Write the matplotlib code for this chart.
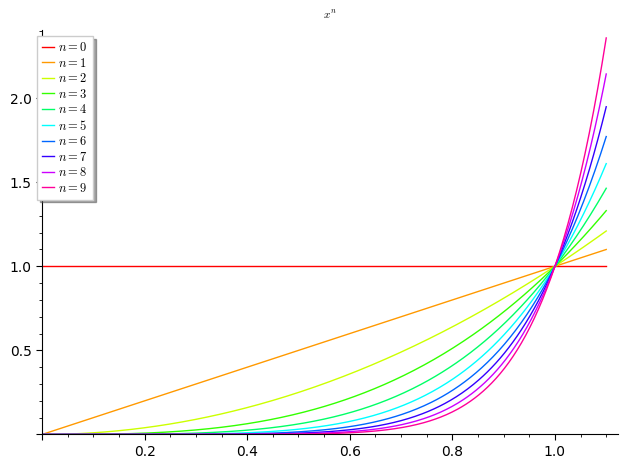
import numpy as np
import matplotlib
matplotlib.use('Agg')
import matplotlib.pyplot as plt
from matplotlib.ticker import MultipleLocator, FixedLocator

# exponents and curve colours (rainbow hues)
EXPONENTS = [0, 1, 2, 3, 4, 5, 6, 7, 8, 9]
COLORS = ['#ff0000', '#ff9900', '#ccff00', '#33ff00', '#00ff66',
          '#00ffff', '#0066ff', '#3300ff', '#cc00ff', '#ff0099']
X_MIN, X_MAX = 0.0, 1.1
X_TICKS = [0.2, 0.4, 0.6, 0.8, 1.0]
Y_TICKS = [0.5, 1.0, 1.5, 2.0]

plt.rcParams['mathtext.fontset'] = 'cm'

fig = plt.figure(figsize=(6.28, 4.69), dpi=100)
ax = fig.add_axes([0.0669, 0.0736, 0.9164, 0.8624])

x = np.linspace(X_MIN, X_MAX, 400)
for n, c in zip(EXPONENTS, COLORS):
    ax.plot(x, x ** n, color=c, lw=1, label=f'$n={n}$')

ymax = X_MAX ** max(EXPONENTS)
ax.set_xlim(0, X_MAX * 1.02)
ax.set_ylim(0, ymax * 1.02)

for s in ['top', 'right']:
    ax.spines[s].set_visible(False)

ax.xaxis.set_major_locator(FixedLocator([0] + X_TICKS))
ax.yaxis.set_major_locator(FixedLocator([0] + Y_TICKS))
ax.set_xticklabels([''] + [f'{v:.1f}' for v in X_TICKS])
ax.set_yticklabels([''] + [f'{v:.1f}' for v in Y_TICKS])
ax.xaxis.set_minor_locator(MultipleLocator(0.05))
ax.yaxis.set_minor_locator(MultipleLocator(0.1))
ax.tick_params(which='major', length=4, labelsize=10)
ax.tick_params(which='minor', length=2)

ax.set_title('$x^n$', fontsize=8, pad=8)

ax.legend(loc='upper left', bbox_to_anchor=(-0.009, 0.985), fontsize=9,
          shadow=True, fancybox=False, handlelength=1.0, handletextpad=0.3,
          labelspacing=0.2, borderaxespad=0, borderpad=0.4, framealpha=1)

fig.savefig('out.png', dpi=100)
